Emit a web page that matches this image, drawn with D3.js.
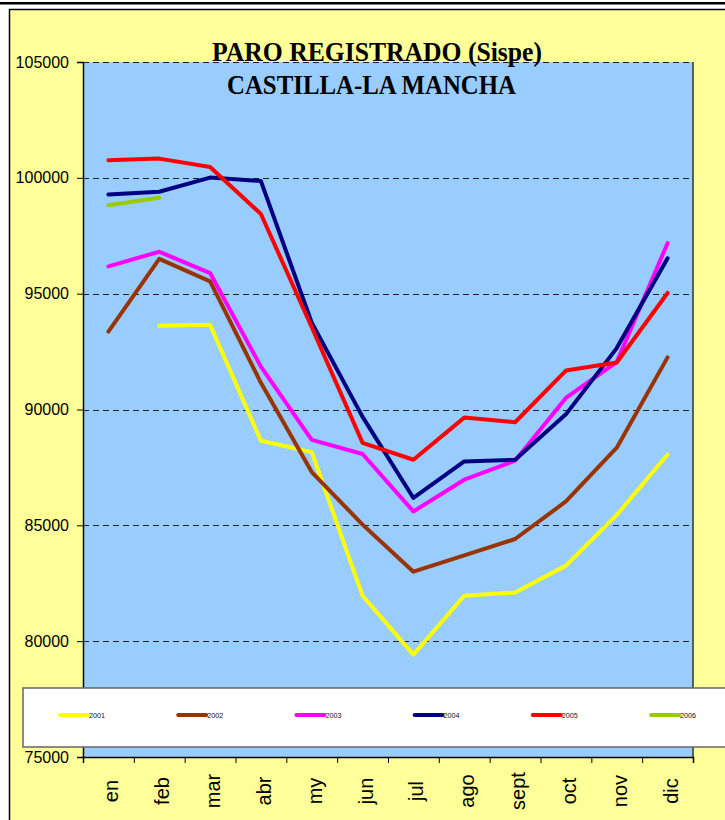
<!DOCTYPE html>
<html>
<head>
<meta charset="utf-8">
<script src="https://cdn.jsdelivr.net/npm/d3@7"></script>
<style>
    body { margin: 0; background: #fff; }
    svg { display: block; }
</style>
</head>
<body>
<div id="chart"></div>
<script>
// Chart data
const months = ['en', 'feb', 'mar', 'abr', 'my', 'jun', 'jul', 'ago', 'sept', 'oct', 'nov', 'dic'];
const years = ['2001', '2002', '2003', '2004', '2005', '2006'];
const paro2001 = [null, 93620, 93660, 88650, 88160, 81960, 79420, 81960, 82100, 83260, 85450, 88060];
const paro2002 = [93360, 96500, 95530, 91150, 87300, 85030, 83000, 83700, 84410, 86030, 88350, 92250];
const paro2003 = [96180, 96810, 95890, 91850, 88690, 88080, 85600, 86970, 87790, 90500, 92050, 97180];
const paro2004 = [99280, 99400, 100010, 99860, 93750, 89680, 86180, 87760, 87830, 89790, 92650, 96530];
const paro2005 = [100760, 100830, 100470, 98440, 93550, 88560, 87830, 89650, 89450, 91680, 92030, 95030];
const paro2006 = [98820, 99140, null, null, null, null, null, null, null, null, null, null];
const yTicks = [75000, 80000, 85000, 90000, 95000, 100000, 105000];
const titleLines = ['PARO REGISTRADO (Sispe)', 'CASTILLA-LA MANCHA'];

const seriesValues = [paro2001, paro2002, paro2003, paro2004, paro2005, paro2006];
const seriesColors = ['#FFFF00', '#993300', '#FF00FF', '#000080', '#FF0000', '#99CC00'];

const W = 725, H = 820;
const margin = { top: 62, left: 83, right: 32, bottom: 63 };
const width = W - margin.left - margin.right;
const height = H - margin.top - margin.bottom;

const svg = d3.select('#chart').append('svg')
    .attr('width', W)
    .attr('height', H);

// Page frame: thick rule on top, yellow panel below
svg.append('rect')
    .attr('x', 9.5).attr('y', 9.5)
    .attr('width', W).attr('height', H)
    .attr('fill', '#FFFF99')
    .attr('stroke', '#000')
    .attr('stroke-width', 1.5);

svg.append('line')
    .attr('x1', 0).attr('x2', W)
    .attr('y1', 3.2).attr('y2', 3.2)
    .attr('stroke', '#000')
    .attr('stroke-width', 2.6);

const g = svg.append('g')
    .attr('transform', `translate(${margin.left},${margin.top})`);

// Scales
const xScale = d3.scaleBand()
    .domain(months)
    .range([0, width])
    .padding(0);

const xEdges = d3.scaleLinear()
    .domain([0, months.length])
    .range([0, width]);

const yScale = d3.scaleLinear()
    .domain([75000, 105000])
    .range([height, 0]);

// Plot area
g.append('rect')
    .attr('width', width)
    .attr('height', height)
    .attr('fill', '#99CCFF');

g.append('line')
    .attr('x1', width).attr('x2', width)
    .attr('y1', 0).attr('y2', height)
    .attr('stroke', '#333')
    .attr('stroke-width', 1.5);

// Grid lines
g.selectAll('.grid-line')
    .data(yTicks.filter(d => d > 75000))
    .enter()
    .append('line')
    .attr('class', 'grid-line')
    .attr('x1', 0)
    .attr('x2', width)
    .attr('y1', d => Math.round(yScale(d)) + 0.5)
    .attr('y2', d => Math.round(yScale(d)) + 0.5)
    .attr('stroke', '#222')
    .attr('stroke-width', 1)
    .attr('stroke-dasharray', '6,4');

// Series lines
const line = d3.line()
    .defined(d => d != null)
    .x((d, i) => xScale(months[i]) + xScale.bandwidth() / 2)
    .y(d => yScale(d));

g.selectAll('.series')
    .data(seriesValues)
    .enter()
    .append('path')
    .attr('class', 'series')
    .attr('d', d => line(d))
    .attr('fill', 'none')
    .attr('stroke', (d, i) => seriesColors[i])
    .attr('stroke-width', 4)
    .attr('stroke-linejoin', 'round')
    .attr('stroke-linecap', 'round');

// Y axis
const yAxis = d3.axisLeft(yScale)
    .tickValues(yTicks)
    .tickSize(6)
    .tickPadding(8)
    .tickFormat(d3.format('d'));

const yAxisG = g.append('g')
    .attr('class', 'y-axis')
    .call(yAxis);

yAxisG.select('.domain')
    .attr('stroke', '#000')
    .attr('stroke-width', 1.5);

yAxisG.selectAll('text')
    .attr('font-family', '"Liberation Sans", Arial, sans-serif')
    .attr('font-size', '16px')
    .attr('fill', '#000');

// X axis: ticks on month boundaries, labels centred in each band
const xTickAxis = d3.axisBottom(xEdges)
    .tickValues(d3.range(months.length + 1))
    .tickSize(6)
    .tickFormat('');

const xAxisG = g.append('g')
    .attr('class', 'x-axis')
    .attr('transform', `translate(0,${height})`)
    .call(xTickAxis);

xAxisG.select('.domain')
    .attr('stroke', '#000')
    .attr('stroke-width', 1.5);

g.selectAll('.x-label')
    .data(months)
    .enter()
    .append('text')
    .attr('class', 'x-label')
    .attr('transform', d => `translate(${xScale(d) + xScale.bandwidth() / 2 + 10},${height + 34}) rotate(-90)`)
    .attr('text-anchor', 'middle')
    .attr('font-family', '"Liberation Sans", Arial, sans-serif')
    .attr('font-size', '20px')
    .attr('fill', '#000')
    .text(d => d);

// Legend
const legend = svg.append('g').attr('class', 'legend');

legend.append('rect')
    .attr('x', 23).attr('y', 688)
    .attr('width', W).attr('height', 59)
    .attr('fill', '#fff')
    .attr('stroke', '#666')
    .attr('stroke-width', 1.5);

const legendX = d3.scaleLinear()
    .domain([0, years.length - 1])
    .range([60, 651]);

const items = legend.selectAll('.legend-item')
    .data(years)
    .enter()
    .append('g')
    .attr('class', 'legend-item')
    .attr('transform', (d, i) => `translate(${legendX(i)},715)`);

items.append('line')
    .attr('x1', 0).attr('x2', 28)
    .attr('stroke', (d, i) => seriesColors[i])
    .attr('stroke-width', 4)
    .attr('stroke-linecap', 'round');

items.append('text')
    .attr('x', 29)
    .attr('dy', '0.35em')
    .attr('font-family', '"Liberation Sans", Arial, sans-serif')
    .attr('font-size', '8px')
    .attr('textLength', 16)
    .attr('lengthAdjust', 'spacingAndGlyphs')
    .attr('fill', '#111')
    .text(d => d);

// Title (Excel draws it slightly condensed)
const titlePos = [
    { x: 212, y: 61, w: 330 },
    { x: 227, y: 94, w: 289 }
];

svg.selectAll('.title')
    .data(titleLines)
    .enter()
    .append('text')
    .attr('class', 'title')
    .attr('x', (d, i) => titlePos[i].x)
    .attr('y', (d, i) => titlePos[i].y)
    .attr('textLength', (d, i) => titlePos[i].w)
    .attr('lengthAdjust', 'spacingAndGlyphs')
    .attr('font-family', '"Liberation Serif", "Times New Roman", serif')
    .attr('font-weight', 'bold')
    .attr('font-size', '28px')
    .attr('fill', '#000')
    .text(d => d);
</script>
</body>
</html>
